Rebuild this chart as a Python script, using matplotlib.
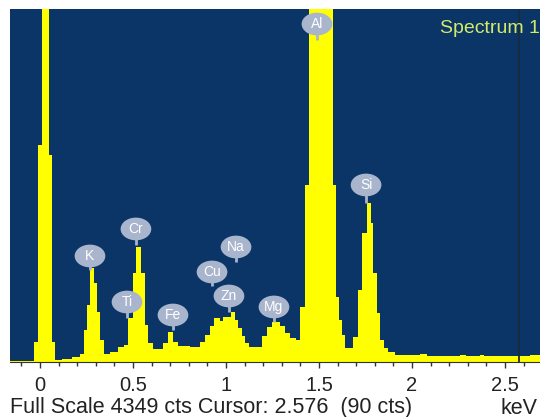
import matplotlib.pyplot as plt
from matplotlib.patches import Ellipse
from matplotlib.ticker import MultipleLocator

# EDS spectrum: stair edges (keV) and counts per step
edges = [-0.161, -0.032, -0.011, 0.011, 0.048, 0.065, 0.081, 0.118, 0.172, 0.215,
         0.237, 0.253, 0.269, 0.290, 0.306, 0.323, 0.344, 0.376, 0.419, 0.452,
         0.473, 0.500, 0.516, 0.543, 0.565, 0.581, 0.608, 0.661, 0.688, 0.715,
         0.742, 0.806, 0.860, 0.887, 0.914, 0.935, 0.968, 0.984, 1.027, 1.048,
         1.065, 1.086, 1.102, 1.124, 1.194, 1.220, 1.247, 1.290, 1.317, 1.344,
         1.376, 1.398, 1.425, 1.446, 1.575, 1.591, 1.608, 1.624, 1.640, 1.683,
         1.710, 1.731, 1.758, 1.780, 1.790, 1.812, 1.828, 1.849, 1.871, 1.909,
         2.043, 2.081, 2.258, 2.290, 2.366, 2.387, 2.634, 2.715]
counts = [12, 246, 2673, 9000, 2550, 246, 25, 37, 62, 99,
          394, 702, 1158, 973, 616, 271, 99, 123, 185, 209,
          542, 1096, 1417, 1096, 456, 234, 160, 234, 370, 246,
          197, 185, 246, 333, 444, 542, 505, 554, 616, 517,
          419, 320, 234, 185, 320, 431, 493, 444, 357, 296,
          271, 678, 2181, 9000, 2181, 801, 517, 333, 172, 308,
          887, 1589, 1959, 1712, 1096, 604, 271, 172, 123, 86,
          99, 74, 86, 74, 86, 74, 86]

# element markers
elements = ['K', 'Ti', 'Cr', 'Fe', 'Cu', 'Zn', 'Na', 'Mg', 'Al', 'Si']
elem_kev = [0.269, 0.468, 0.516, 0.715, 0.925, 1.016, 1.054, 1.258, 1.489, 1.753]
elem_cts = [1306, 739, 1639, 579, 1109, 813, 1417, 678, 4164, 2181]
stem_cts = [1133, 542, 1441, 394, 936, 616, 1232, 493, 3967, 1959]

full_scale = 4349
cursor_kev = 2.576
cursor_cts = 90

bg = '#0a3566'
yellow = '#ffff00'
badge = '#a9b5cc'

plt.rcParams['font.family'] = ['Liberation Sans', 'DejaVu Sans']

fig = plt.figure(figsize=(5.4, 4.17), dpi=100)
ax = fig.add_axes([10 / 540, 55 / 417, 530 / 540, 353 / 417])
ax.set_facecolor(bg)

ax.stairs(counts, edges, fill=True, color=yellow, zorder=2)
ax.axvline(cursor_kev, color='#1b2a40', lw=1.3, zorder=3)

for name, x, y, ys in zip(elements, elem_kev, elem_cts, stem_cts):
    ax.plot([x, x], [y, ys], color=badge, lw=2, zorder=4, solid_capstyle='butt')
    ax.add_patch(Ellipse((x, y), 0.165, 280, facecolor=badge, edgecolor='none', zorder=5))
    ax.text(x, y, name, color='white', fontsize=10, ha='center', va='center', zorder=6)

ax.set_xlim(-0.161, 2.688)
ax.set_ylim(0, full_scale)
ax.xaxis.set_major_locator(MultipleLocator(0.5))
ax.xaxis.set_minor_locator(MultipleLocator(0.1))
ax.xaxis.set_major_formatter(lambda v, p: f'{v:g}')
ax.tick_params(axis='x', which='major', length=4, width=1, color='#333333',
               labelsize=14.5, pad=6, labelcolor='#222222')
ax.tick_params(axis='x', which='minor', length=3, width=1, color='#333333')
ax.set_yticks([])
for s in ['left', 'top', 'right']:
    ax.spines[s].set_visible(False)
ax.spines['bottom'].set_color('#333333')

ax.text(1.0, 0.97, 'Spectrum 1', transform=ax.transAxes, color='#d2ea6a',
        fontsize=14, ha='right', va='top')

fig.text(10 / 540, 1 - 408 / 417,
         f'Full Scale {full_scale} cts Cursor: {cursor_kev:.3f}  ({cursor_cts} cts)',
         fontsize=15.5, ha='left', va='center', color='#222222')
fig.text(538 / 540, 1 - 408 / 417, 'keV', fontsize=15.5, ha='right', va='center',
         color='#222222')

plt.savefig('out.png', dpi=100)
